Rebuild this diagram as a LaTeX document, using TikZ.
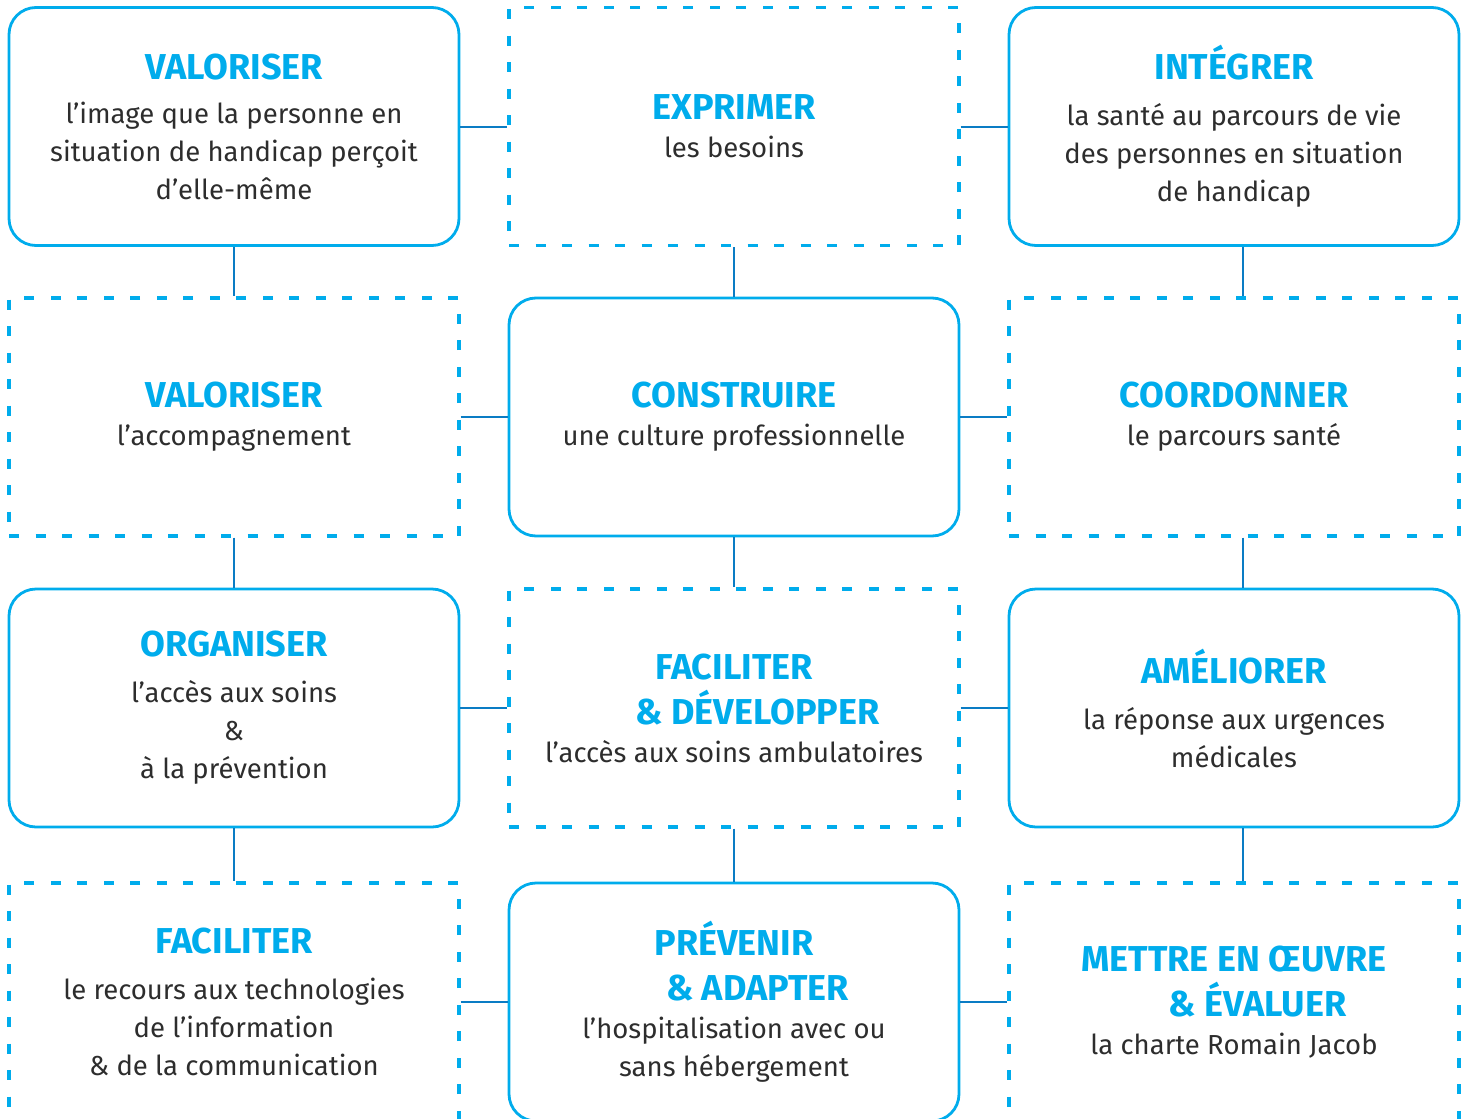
\documentclass[tikz,border=0pt]{standalone}
\usepackage{fontspec}
\setmainfont{Fira Sans}
\definecolor{boxcyan}{RGB}{0,172,236}
\definecolor{linkblue}{RGB}{10,124,196}
\definecolor{textgray}{RGB}{45,45,45}
\newcommand{\ttl}[1]{{\fontsize{36}{40}\selectfont\bfseries\color{boxcyan}#1}}

\begin{document}
\begin{tikzpicture}[x=1pt,y=-1pt,
    solidbox/.style={draw=boxcyan,line width=2.8pt,rounded corners=27pt,minimum width=450pt,minimum height=238pt,inner sep=0pt,align=center,text=textgray,font=\fontsize{27.5}{38}\selectfont},
    dashbox/.style={solidbox,sharp corners,line width=3.2pt,dash pattern=on 10pt off 16.5pt},
    link/.style={draw=linkblue,line width=2pt}]
    \useasboundingbox (0,0) rectangle (1465,1119);

    \node[solidbox] (valimage) at (234,126.5) {\ttl{VALORISER}\\[6pt]l’image que la personne en\\situation de handicap perçoit\\d’elle-même};
    \node[dashbox] (exprimer) at (734,126.5) {\ttl{EXPRIMER}\\les besoins};
    \node[solidbox] (integrer) at (1234,126.5) {\ttl{INTÉGRER}\\[8pt]la santé au parcours de vie\\des personnes en situation\\de handicap};

    \node[dashbox] (valaccomp) at (234,417) {\ttl{VALORISER}\\l’accompagnement};
    \node[solidbox] (construire) at (734,417) {\ttl{CONSTRUIRE}\\une culture professionnelle};
    \node[dashbox] (coordonner) at (1234,417) {\ttl{COORDONNER}\\le parcours santé};

    \node[solidbox] (organiser) at (234,708) {\ttl{ORGANISER}\\[8pt]l’accès aux soins\\\&\\à la prévention};
    \node[dashbox] (facdev) at (734,708) {\ttl{FACILITER}\\[7pt]\hspace*{47pt}\ttl{\& DÉVELOPPER}\\l’accès aux soins ambulatoires};
    \node[solidbox] (ameliorer) at (1234,708) {\ttl{AMÉLIORER}\\[8pt]la réponse aux urgences\\médicales};

    \node[dashbox] (factech) at (234,1002) {\ttl{FACILITER}\\[8pt]le recours aux technologies\\de l’information\\\& de la communication};
    \node[solidbox] (prevenir) at (734,1002) {\ttl{PRÉVENIR}\\[7pt]\hspace*{47pt}\ttl{\& ADAPTER}\\l’hospitalisation avec ou\\sans hébergement};
    \node[dashbox] (mettre) at (1234,1002) {\ttl{METTRE EN ŒUVRE}\\[7pt]\hspace*{47pt}\ttl{\& ÉVALUER}\\la charte Romain Jacob};

    % rows
    \draw[link] (valimage) -- (exprimer);
    \draw[link] (exprimer) -- (integrer);
    \draw[link] (valaccomp) -- (construire);
    \draw[link] (construire) -- (coordonner);
    \draw[link] (organiser) -- (facdev);
    \draw[link] (facdev) -- (ameliorer);
    \draw[link] (factech) -- (prevenir);
    \draw[link] (prevenir) -- (mettre);

    % columns
    \draw[link] (valimage) -- (valaccomp);
    \draw[link] (valaccomp) -- (organiser);
    \draw[link] (organiser) -- (factech);
    \draw[link] (exprimer) -- (construire);
    \draw[link] (construire) -- (facdev);
    \draw[link] (facdev) -- (prevenir);
    \draw[link] ([xshift=9pt]integrer.south) -- ([xshift=9pt]coordonner.north);
    \draw[link] ([xshift=9pt]coordonner.south) -- ([xshift=9pt]ameliorer.north);
    \draw[link] ([xshift=9pt]ameliorer.south) -- ([xshift=9pt]mettre.north);
\end{tikzpicture}
\end{document}
